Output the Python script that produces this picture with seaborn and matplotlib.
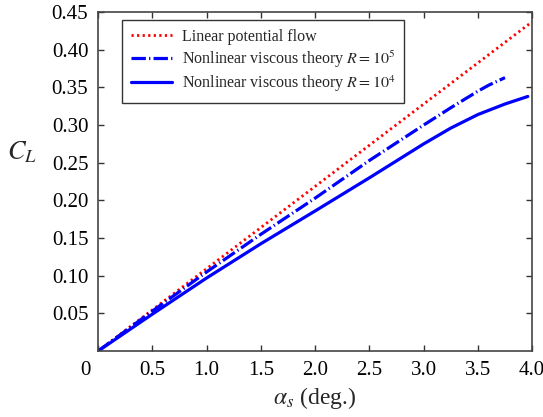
import numpy as np
import pandas as pd
import matplotlib
matplotlib.use("Agg")
import matplotlib.pyplot as plt
import matplotlib.transforms as mtransforms
import seaborn as sns

# ---- data ----
alpha_lin = [0.0, 1.0, 2.0, 3.0, 4.0]
cl_lin = [0.0, 0.1093, 0.2186, 0.3279, 0.4372]

alpha_r5 = [0.0, 0.5, 1.0, 1.5, 2.0, 2.5, 3.0, 3.25, 3.5, 3.6, 3.75]
cl_r5 = [0.0, 0.053, 0.105, 0.155, 0.203, 0.253, 0.300, 0.323, 0.345, 0.353, 0.363]

alpha_r4 = [0.0, 0.5, 1.0, 1.5, 2.0, 2.5, 3.0, 3.25, 3.5, 3.75, 3.96]
cl_r4 = [0.0, 0.049, 0.097, 0.1425, 0.186, 0.230, 0.275, 0.296, 0.314, 0.328, 0.338]

xticks = [0, 0.5, 1.0, 1.5, 2.0, 2.5, 3.0, 3.5, 4.0]
xticklabels = ["0", "0.5", "1.0", "1.5", "2.0", "2.5", "3.0", "3.5", "4.0"]
yticks = [0.05, 0.10, 0.15, 0.20, 0.25, 0.30, 0.35, 0.40, 0.45]
yticklabels = ["0.05", "0.10", "0.15", "0.20", "0.25", "0.30", "0.35", "0.40", "0.45"]

labels = ["Linear potential flow",
          r"Nonlinear viscous theory $R=10^5$",
          r"Nonlinear viscous theory $R=10^4$"]

sns.set_theme(style="ticks")
plt.rcParams["font.family"] = ["Liberation Serif", "DejaVu Serif"]
plt.rcParams["mathtext.fontset"] = "stix"

fig = plt.figure(figsize=(5.43, 4.17), dpi=100)
ax = fig.add_axes([0.1805, 0.158, 0.7995, 0.813])

df_lin = pd.DataFrame({"a": alpha_lin, "c": cl_lin})
df_r5 = pd.DataFrame({"a": alpha_r5, "c": cl_r5})
df_r4 = pd.DataFrame({"a": alpha_r4, "c": cl_r4})

sns.lineplot(data=df_lin, x="a", y="c", ax=ax, color="#ff0000", lw=2.0,
             linestyle=(0, (0.8, 1.2)), label=labels[0])
sns.lineplot(data=df_r5, x="a", y="c", ax=ax, color="#0000ff", lw=2.3,
             linestyle=(0, (4.5, 1.0, 0.4, 1.0)), label=labels[1])
sns.lineplot(data=df_r4, x="a", y="c", ax=ax, color="#0000ff", lw=2.3,
             linestyle="-", label=labels[2])

ax.set_xlim(0, 4.0)
ax.set_ylim(0, 0.45)
ax.set_xticks(xticks)
ax.set_xticklabels(xticklabels)
ax.set_yticks(yticks)
ax.set_yticklabels(yticklabels)

ax.tick_params(direction="in", length=4, width=1, colors="#333333",
               labelcolor="black", labelsize=15, top=True, right=True, pad=7)
for s in ax.spines.values():
    s.set_color("#444444")
    s.set_linewidth(1.2)

# shift the "0" corner label to the left
lbl0 = ax.get_xticklabels()[0]
lbl0.set_transform(lbl0.get_transform() + mtransforms.ScaledTranslation(-13 / 100, 0, fig.dpi_scale_trans))

ax.set_xlabel(r"$\alpha_s$ (deg.)", fontsize=17, labelpad=4)
ax.set_ylabel(r"$C_L$", fontsize=19, rotation=0, labelpad=0)
ax.yaxis.set_label_coords(-0.175, 0.55)

leg = ax.legend(loc="upper left", bbox_to_anchor=(0.055, 0.976), borderaxespad=0,
                fontsize=11.5, frameon=True, fancybox=False, edgecolor="#333333",
                framealpha=1, handlelength=2.6, handletextpad=0.6, labelspacing=0.22,
                borderpad=0.55)
leg.get_frame().set_linewidth(1.0)

fig.savefig("out.png", dpi=100)
